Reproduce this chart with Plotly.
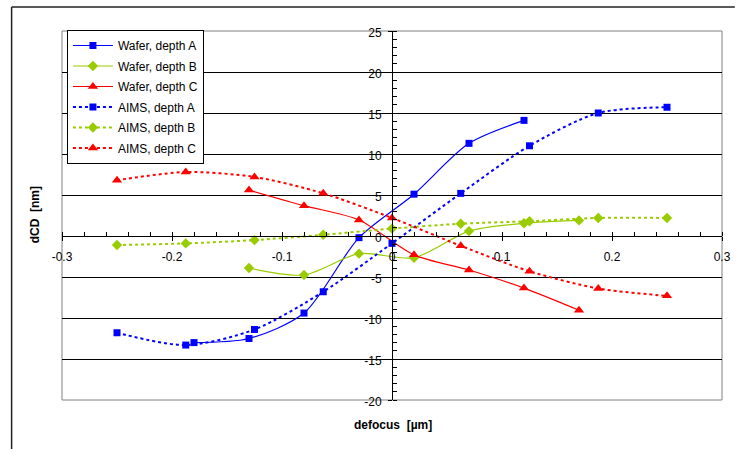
import plotly.graph_objects as go

# ---- data ----
wafer_a_x = [-0.18, -0.13, -0.08, -0.03, 0.02, 0.07, 0.12]
wafer_a = [-13.0, -12.5, -9.4, -0.2, 5.1, 11.3, 14.1]
wafer_b_x = [-0.13, -0.08, -0.03, 0.02, 0.07, 0.12, 0.17]
wafer_b = [-3.9, -4.75, -2.15, -2.65, 0.6, 1.55, 1.9]
wafer_c_x = [-0.13, -0.08, -0.03, 0.02, 0.07, 0.12, 0.17]
wafer_c = [5.6, 3.7, 1.95, -2.3, -4.15, -6.35, -9.05]

aims_x = [-0.25, -0.1875, -0.125, -0.0625, 0.0, 0.0625, 0.125, 0.1875, 0.25]
aims_a = [-11.8, -13.3, -11.4, -6.8, -0.9, 5.2, 11.0, 15.0, 15.7]
aims_b = [-1.1, -0.9, -0.5, 0.15, 0.9, 1.5, 1.8, 2.2, 2.2]
aims_c = [6.8, 7.8, 7.2, 5.2, 2.2, -1.2, -4.3, -6.4, -7.3]

names = ["Wafer, depth A", "Wafer, depth B", "Wafer, depth C",
         "AIMS, depth A", "AIMS, depth B", "AIMS, depth C"]

x_tickvals = [-0.3, -0.2, -0.1, 0.0, 0.1, 0.2, 0.3]
x_ticktext = ["-0.3", "-0.2", "-0.1", "0", "0.1", "0.2", "0.3"]
y_tickvals = [-20, -15, -10, -5, 0, 5, 10, 15, 20, 25]
y_ticktext = ["-20", "-15", "-10", "-5", "0", "5", "10", "15", "20", "25"]

BLUE = "#0000FF"
GREEN = "#99CC00"
RED = "#FF0000"

fig = go.Figure()

def add(x, y, name, color, symbol, size, dash, width):
    fig.add_trace(go.Scatter(
        x=x, y=y, name=name, mode="lines+markers", legendgroup=name,
        line=dict(color=color, width=width, dash=dash, shape="spline", smoothing=0.8),
        marker=dict(color=color, symbol=symbol, size=size, line=dict(width=0)),
    ))

add(wafer_a_x, wafer_a, names[0], BLUE, "square", 7, "solid", 1.2)
add(wafer_b_x, wafer_b, names[1], GREEN, "diamond", 8, "solid", 1.2)
add(wafer_c_x, wafer_c, names[2], RED, "triangle-up", 9, "solid", 1.2)
add(aims_x, aims_a, names[3], BLUE, "square", 7, "dot", 2)
add(aims_x, aims_b, names[4], GREEN, "diamond", 8, "dot", 2)
add(aims_x, aims_c, names[5], RED, "triangle-up", 9, "dot", 2)

W, H = 743, 449
L, R, T, B = 62, 13, 31, 49
pw, ph = W - L - R, H - T - B

def px2paper_x(px):
    return (px - L) / pw

def px2paper_y(py):
    return (H - B - py) / ph

fig.update_layout(
    width=W, height=H,
    margin=dict(l=L, r=R, t=T, b=B, pad=0),
    paper_bgcolor="white", plot_bgcolor="white",
    font=dict(family="Arial, Liberation Sans, sans-serif", size=12, color="black"),
    showlegend=True,
    legend=dict(
        x=px2paper_x(67), y=px2paper_y(30), xanchor="left", yanchor="top",
        bgcolor="white", bordercolor="black", borderwidth=1,
        font=dict(size=12, color="black"), tracegroupgap=1.5,
        itemwidth=40,
    ),
    xaxis=dict(
        range=[-0.3, 0.3], tickmode="array", tickvals=x_tickvals, ticktext=x_ticktext,
        anchor="free", position=20 / 45,
        showgrid=False, zeroline=False,
        showline=True, linecolor="black", linewidth=1,
        ticks="outside", ticklen=4, tickcolor="black", ticklabelstandoff=6,
        minor=dict(dtick=0.02, tick0=0, ticks="inside", ticklen=4, tickcolor="black", showgrid=False),
        tickfont=dict(size=12),
    ),
    yaxis=dict(
        range=[-20, 25], tickmode="array", tickvals=y_tickvals, ticktext=y_ticktext,
        anchor="free", position=0.5,
        showgrid=True, gridcolor="#000000", gridwidth=1,
        zeroline=False,
        showline=True, linecolor="black", linewidth=1,
        ticks="outside", ticklen=4, tickcolor="black", ticklabelstandoff=4,
        ticklabelshift=2,
        minor=dict(dtick=1, tick0=0, ticks="inside", ticklen=4, tickcolor="black", showgrid=False),
        tickfont=dict(size=12),
    ),
)

# plot-area border and outer chart frame
fig.add_shape(type="rect", xref="paper", yref="paper", x0=0, y0=0, x1=1, y1=1,
              line=dict(color="#808080", width=1), layer="below")
fig.add_shape(type="line", xref="paper", yref="paper",
              x0=px2paper_x(11), x1=px2paper_x(11), y0=px2paper_y(7), y1=px2paper_y(449),
              line=dict(color="#222222", width=1.5))
fig.add_shape(type="line", xref="paper", yref="paper",
              x0=px2paper_x(11), x1=px2paper_x(743), y0=px2paper_y(7), y1=px2paper_y(7),
              line=dict(color="#222222", width=1.5))

# axis titles
fig.add_annotation(text="<b>dCD  [nm]</b>", xref="paper", yref="paper",
                   x=px2paper_x(35), y=px2paper_y(215), textangle=-90,
                   xanchor="center", yanchor="middle",
                   showarrow=False, font=dict(size=12, color="black"))
fig.add_annotation(text="<b>defocus  [µm]</b>", xref="paper", yref="paper",
                   x=px2paper_x(397), y=px2paper_y(425),
                   xanchor="center", yanchor="middle",
                   showarrow=False, font=dict(size=12, color="black"))

fig.write_html("out.html")
